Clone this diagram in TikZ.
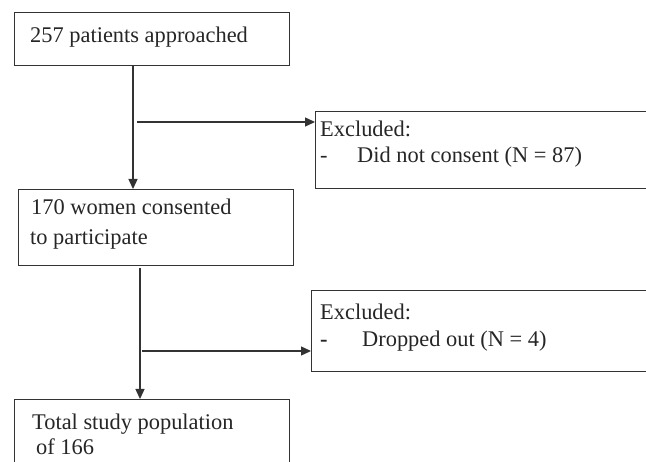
\documentclass[tikz,border=0pt]{standalone}
\usepackage{fontspec}
\setmainfont{Liberation Serif}
\usetikzlibrary{arrows.meta}
\begin{document}
\begin{tikzpicture}[x=1pt,y=-1pt,
  boxline/.style={draw=black!80,line width=1.3pt,inner sep=0pt,anchor=north west},
  txt/.style={anchor=base west,inner sep=0pt,font=\fontsize{22.4}{27}\selectfont,text=black!85},
  arr/.style={draw=black!80,line width=1.3pt,-{Triangle[length=10pt,width=9pt]}}]
\useasboundingbox (0,0) rectangle (646,462);
\clip (0,0) rectangle (646,462);
\fill[white] (0,0) rectangle (646,462);
% boxes
\node[boxline,minimum width=275pt,minimum height=53pt] (b1) at (14,12) {};
\node[boxline,minimum width=345pt,minimum height=77pt] (e1) at (315,111) {};
\node[boxline,minimum width=275pt,minimum height=76pt] (b2) at (18,189) {};
\node[boxline,minimum width=345pt,minimum height=81pt] (e2) at (311,290) {};
\node[boxline,minimum width=275pt,minimum height=80pt] (b3) at (14,399) {};
% texts
\node[txt] (t1) at (30,43) {257 patients approached};
\node[txt] (t2) at (320,137) {Excluded:};
\node[txt] (t3) at (320,163) {-};
\node[txt] (t4) at (357,163) {Did not consent (N = 87)};
\node[txt] (t5) at (31,215) {170 women consented};
\node[txt] (t6) at (30,245) {to participate};
\node[txt] (t7) at (320,320) {Excluded:};
\node[txt] (t8) at (320,347) {\textbf{-}};
\node[txt] (t9) at (362,347) {Dropped out (N = 4)};
\node[txt] (t10) at (32,430) {Total study population};
\node[txt] (t11) at (36,455) {of 166};
% connector helpers
\coordinate (v1) at (133,0);
\coordinate (h1) at (137,122);
\coordinate (v2) at (140,268);
\coordinate (h2) at (142,351);
% connectors
\draw[arr] (b1.south -| v1) -- (b2.north -| v1);
\draw[arr] (h1) -- (e1.west |- h1);
\draw[arr] (v2) -- (b3.north -| v2);
\draw[arr] (h2) -- (e2.west |- h2);
\end{tikzpicture}
\end{document}
